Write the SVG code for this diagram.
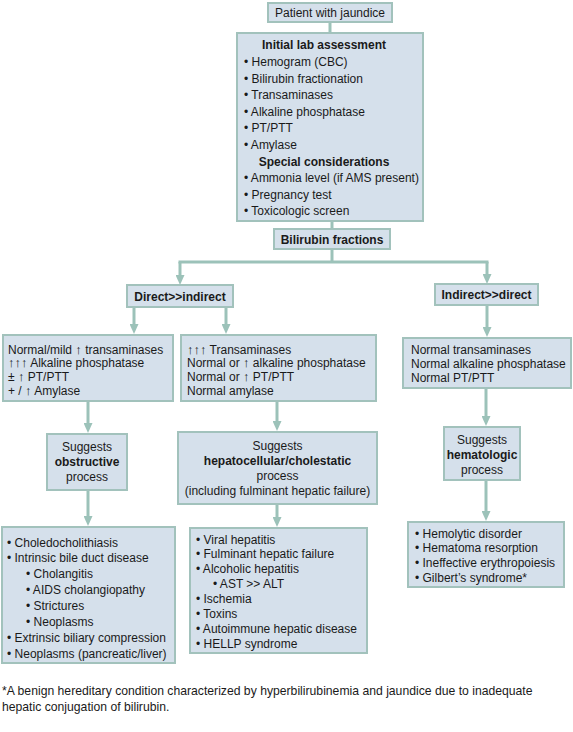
<svg xmlns="http://www.w3.org/2000/svg" width="573" height="732" viewBox="0 0 573 732">
<style>
.box{fill:#d5e0eb;stroke:#a2c2bc;stroke-width:2}
text{font-family:"Liberation Sans",Arial,sans-serif;font-size:12px;fill:#1a1a1a}
.b{font-weight:bold}
.c{text-anchor:middle}
.up{font-size:13px}
.fn{font-size:12.2px}
.con{fill:none;stroke:#9cc2b9;stroke-width:3}
.arr{marker-end:url(#ah)}
</style>
<defs>
<marker id="ah" markerUnits="userSpaceOnUse" markerWidth="10" markerHeight="9" refX="4" refY="4.5" orient="auto">
<path d="M0,0 L10,4.5 L0,9 z" fill="#9cc2b9"/>
</marker>
</defs>
<rect width="573" height="732" fill="#ffffff"/>
<g id="connectors">
<path class="con" d="M330,22 V33"/>
<path class="con" d="M332,221 V229"/>
<path class="con" d="M332,249 V262"/>
<path class="con" d="M180,262 H487" stroke-linecap="square"/>
<path class="con arr" d="M180,262 V279"/>
<path class="con arr" d="M487,262 V278"/>
<path class="con arr" d="M134,307 V328"/>
<path class="con arr" d="M226,307 V328"/>
<path class="con arr" d="M487,305 V331"/>
<path class="con arr" d="M88,401 V427"/>
<path class="con arr" d="M277,401 V425"/>
<path class="con arr" d="M486,388 V420"/>
<path class="con arr" d="M88,490 V520"/>
<path class="con arr" d="M277,504 V521"/>
<path class="con arr" d="M486,480 V515"/>
</g>
<g id="patient">
<rect class="box" x="268" y="3" width="124" height="19"/>
<text class="c" x="330" y="17">Patient with jaundice</text>
</g>
<g id="initial-lab">
<rect class="box" x="237" y="33" width="186" height="188"/>
<text class="b c" x="324" y="49">Initial lab assessment</text>
<text x="244" y="66">• Hemogram (CBC)</text>
<text x="244" y="82.5">• Bilirubin fractionation</text>
<text x="244" y="99">• Transaminases</text>
<text x="244" y="115.5">• Alkaline phosphatase</text>
<text x="244" y="132">• PT/PTT</text>
<text x="244" y="148.5">• Amylase</text>
<text class="b c" x="324" y="165.5">Special considerations</text>
<text x="244" y="182">• Ammonia level (if AMS present)</text>
<text x="244" y="199">• Pregnancy test</text>
<text x="244" y="215">• Toxicologic screen</text>
</g>
<g id="bilirubin-fractions">
<rect class="box" x="274" y="229" width="116" height="20"/>
<text class="b c" x="332" y="243.5">Bilirubin fractions</text>
</g>
<g id="direct">
<rect class="box" x="127" y="285" width="106" height="22"/>
<text class="b c" x="180" y="300.5">Direct&gt;&gt;indirect</text>
</g>
<g id="indirect">
<rect class="box" x="435" y="284" width="103" height="21"/>
<text class="b c" x="486.5" y="299">Indirect&gt;&gt;direct</text>
</g>
<g id="labs-obstructive">
<rect class="box" x="3" y="335" width="170" height="66"/>
<text x="8" y="353.5">Normal/mild <tspan class="up">↑</tspan> transaminases</text>
<text x="8" y="367.3"><tspan class="up">↑↑↑</tspan> Alkaline phosphatase</text>
<text x="8" y="381">± <tspan class="up">↑</tspan> PT/PTT</text>
<text x="8" y="394.8">+ / <tspan class="up">↑</tspan> Amylase</text>
</g>
<g id="labs-hepatocellular">
<rect class="box" x="181" y="335" width="195" height="66"/>
<text x="187" y="353.5"><tspan class="up">↑↑↑</tspan> Transaminases</text>
<text x="187" y="367.3">Normal or <tspan class="up">↑</tspan> alkaline phosphatase</text>
<text x="187" y="381">Normal or <tspan class="up">↑</tspan> PT/PTT</text>
<text x="187" y="394.8">Normal amylase</text>
</g>
<g id="labs-hematologic">
<rect class="box" x="403" y="338" width="168" height="50"/>
<text x="411" y="354">Normal transaminases</text>
<text x="411" y="367.8">Normal alkaline phosphatase</text>
<text x="411" y="381.5">Normal PT/PTT</text>
</g>
<g id="obstructive">
<rect class="box" x="47" y="434" width="80" height="56"/>
<text class="c" x="87" y="450.5">Suggests</text>
<text class="b c" x="87" y="465.5">obstructive</text>
<text class="c" x="87" y="480.5">process</text>
</g>
<g id="hepatocellular">
<rect class="box" x="178" y="432" width="199" height="72"/>
<text class="c" x="277.5" y="449.5">Suggests</text>
<text class="b c" x="277.5" y="464.5">hepatocellular/cholestatic</text>
<text class="c" x="277.5" y="479.5">process</text>
<text class="c" x="277.5" y="494.5">(including fulminant hepatic failure)</text>
</g>
<g id="hematologic">
<rect class="box" x="444" y="427" width="76" height="53"/>
<text class="c" x="482" y="443.5">Suggests</text>
<text class="b c" x="482" y="459">hematologic</text>
<text class="c" x="482" y="473.5">process</text>
</g>
<g id="causes-obstructive">
<rect class="box" x="2" y="527" width="173" height="136"/>
<text x="7" y="546.5">• Choledocholithiasis</text>
<text x="7" y="562.4">• Intrinsic bile duct disease</text>
<text x="26" y="578.3">• Cholangitis</text>
<text x="26" y="594.2">• AIDS cholangiopathy</text>
<text x="26" y="610.1">• Strictures</text>
<text x="26" y="626">• Neoplasms</text>
<text x="7" y="641.9">• Extrinsic biliary compression</text>
<text x="7" y="657.8">• Neoplasms (pancreatic/liver)</text>
</g>
<g id="causes-hepatocellular">
<rect class="box" x="190" y="528" width="177" height="125"/>
<text x="196" y="543.5">• Viral hepatitis</text>
<text x="196" y="558.4">• Fulminant hepatic failure</text>
<text x="196" y="573.2">• Alcoholic hepatitis</text>
<text x="213" y="588">• AST &gt;&gt; ALT</text>
<text x="196" y="602.9">• Ischemia</text>
<text x="196" y="617.8">• Toxins</text>
<text x="196" y="632.6">• Autoimmune hepatic disease</text>
<text x="196" y="647.5">• HELLP syndrome</text>
</g>
<g id="causes-hematologic">
<rect class="box" x="408" y="522" width="156" height="65"/>
<text x="415" y="537.5">• Hemolytic disorder</text>
<text x="415" y="552">• Hematoma resorption</text>
<text x="415" y="566.7">• Ineffective erythropoiesis</text>
<text x="415" y="581.5">• Gilbert’s syndrome*</text>
</g>
<g id="footnote">
<text class="fn" x="2" y="695">*A benign hereditary condition characterized by hyperbilirubinemia and jaundice due to inadequate</text>
<text class="fn" x="2" y="711">hepatic conjugation of bilirubin.</text>
</g>
</svg>
